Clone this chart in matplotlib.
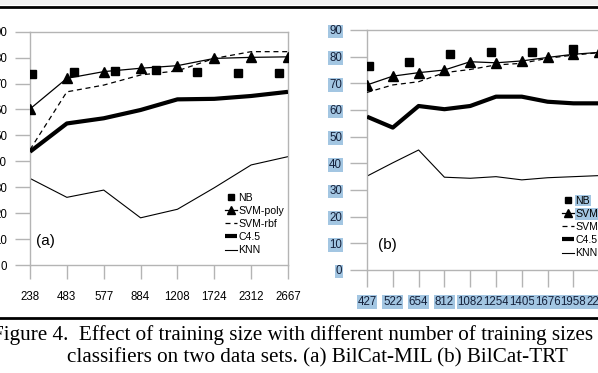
import matplotlib
matplotlib.use("Agg")
import matplotlib.pyplot as plt
from matplotlib.lines import Line2D
from matplotlib.patches import Rectangle

# ---------------- data ----------------
cats_a = ['238', '483', '577', '884', '1208', '1724', '2312', '2667']
nb_a_x = [0.05, 1.19, 2.31, 3.42, 4.53, 5.64, 6.75]
nb_a = [73.7, 74.3, 74.9, 75.3, 74.6, 73.9, 73.9]
svm_poly_a = [60.2, 72.0, 74.6, 75.9, 76.9, 79.7, 80.1, 80.3]
svm_rbf_a = [44.5, 66.8, 69.4, 73.3, 74.9, 79.7, 82.3, 82.3]
c45_a = [43.7, 54.6, 56.6, 59.8, 63.9, 64.1, 65.2, 66.8]
knn_a = [33.4, 26.1, 28.9, 18.2, 21.5, 29.8, 38.6, 41.8]

cats_b = ['427', '522', '654', '812', '1082', '1254', '1405', '1676', '1958', '2250']
nb_b_x = [0.08, 1.64, 3.22, 4.79, 6.40, 7.97]
nb_b = [76.6, 78.1, 80.9, 81.9, 81.9, 82.8]
svm_poly_b = [69.4, 72.7, 74.0, 75.0, 78.1, 77.7, 78.4, 79.7, 80.9, 81.6]
svm_rbf_b = [66.6, 69.4, 70.6, 74.0, 75.2, 76.9, 77.5, 79.4, 80.6, 81.5]
c45_b = [57.5, 53.4, 61.5, 60.3, 61.5, 65.0, 65.0, 63.1, 62.5, 62.5]
knn_b = [35.2, 40.2, 45.0, 34.8, 34.4, 35.0, 33.8, 34.6, 35.0, 35.4]

yticks = [0, 10, 20, 30, 40, 50, 60, 70, 80, 90]
caption1 = "Figure 4.  Effect of training size with different number of training sizes"
caption2 = "classifiers on two data sets. (a) BilCat-MIL (b) BilCat-TRT"

# ---------------- figure ----------------
W, H = 598, 373
fig = plt.figure(figsize=(W / 100, H / 100), dpi=100)
fig.patch.set_facecolor('white')
plt.rcParams['font.family'] = ['Liberation Sans', 'DejaVu Sans']

def px_axes(left, top, right, bottom):
    return fig.add_axes([left / W, 1 - bottom / H, (right - left) / W, (bottom - top) / H])

GRAY = '#b4b4b4'
HL = '#a3c6e2'

def style_axes(ax, cats, nticks_len, ypad, xpad, hl=False):
    ax.set_ylim(0, 90)
    ax.set_xlim(0, len(cats) - 1 if not hl else len(cats))
    ax.set_yticks(yticks)
    ax.set_yticklabels([str(v) for v in yticks])
    ax.set_xticks(range(len(cats)))
    ax.set_xticklabels(cats)
    for s in ax.spines.values():
        s.set_color(GRAY)
        s.set_linewidth(1.0)
    ax.tick_params(axis='y', direction='out', length=nticks_len[0], color=GRAY,
                   width=1.0, pad=ypad, labelsize=8.3)
    ax.tick_params(axis='x', direction='out', length=nticks_len[1], color=GRAY,
                   width=1.0, pad=xpad, labelsize=8.3)
    if hl:
        for t in ax.get_yticklabels() + ax.get_xticklabels():
            t.set_color('#14203a')
            t.set_bbox(dict(facecolor=HL, edgecolor='none', pad=0.6))

def plot_panel(ax, nbx, nb, poly, rbf, c45, knn):
    x = list(range(len(poly)))
    ax.plot(knn, color='black', lw=0.8, label='KNN', zorder=2)
    ax.plot(c45, color='black', lw=3.0, solid_capstyle='butt', label='C4.5', zorder=3)
    ax.plot(rbf, color='black', lw=0.9, ls=(0, (4, 3)), label='SVM-rbf', zorder=3)
    ax.plot(x, poly, color='black', lw=0.9, marker='^', ms=7.5, label='SVM-poly', zorder=4)
    ax.plot(nbx, nb, ls='none', color='black', marker='s', ms=5.2, label='NB', zorder=5)

# panel (a)
axa = px_axes(30, 31.7, 288, 265)
plot_panel(axa, nb_a_x, nb_a, svm_poly_a, svm_rbf_a, c45_a, knn_a)
style_axes(axa, cats_a, (11, 10), 5.5, 8.5)
axa.text(0.025, 0.075, '(a)', transform=axa.transAxes, fontsize=11, ha='left', va='bottom')

# panel (b) (extends beyond right edge)
axb = px_axes(367, 30, 625, 270)
plot_panel(axb, nb_b_x, nb_b, svm_poly_b, svm_rbf_b, c45_b, knn_b)
style_axes(axb, cats_b, (12, 12), 6, 6.5, hl=True)
axb.text(0.042, 0.075, '(b)', transform=axb.transAxes, fontsize=11, ha='left', va='bottom')

for ax, hl in ((axa, False), (axb, True)):
    h, l = ax.get_legend_handles_labels()
    order = ['NB', 'SVM-poly', 'SVM-rbf', 'C4.5', 'KNN']
    hh = [h[l.index(k)] for k in order]
    leg = ax.legend(hh, order, loc='upper left', bbox_to_anchor=(0.755, 0.31),
                    frameon=False, fontsize=7.6, handlelength=1.15, handletextpad=0.15,
                    labelspacing=0.3, borderpad=0, borderaxespad=0, markerscale=0.75)
    if hl:
        for t in leg.get_texts()[:2]:
            t.set_bbox(dict(facecolor=HL, edgecolor='none', pad=0.5))

# page decorations: top gray band and rules
fig.add_artist(Rectangle((0, 1 - 5 / H), 1, 5 / H, transform=fig.transFigure,
                         facecolor='#f0f0f0', edgecolor='none'))
fig.add_artist(Line2D([0, 1], [1 - 6.5 / H, 1 - 6.5 / H], transform=fig.transFigure,
                      color='black', lw=2.0))
fig.add_artist(Line2D([0, 1], [1 - 318 / H, 1 - 318 / H], transform=fig.transFigure,
                      color='black', lw=2.0))

fig.text(-8 / W, 1 - 340 / H, caption1, fontsize=15.2, family='Liberation Serif',
         ha='left', va='baseline')
fig.text(67 / W, 1 - 362 / H, caption2, fontsize=15.2, family='Liberation Serif',
         ha='left', va='baseline')

fig.savefig('out.png', dpi=100)
